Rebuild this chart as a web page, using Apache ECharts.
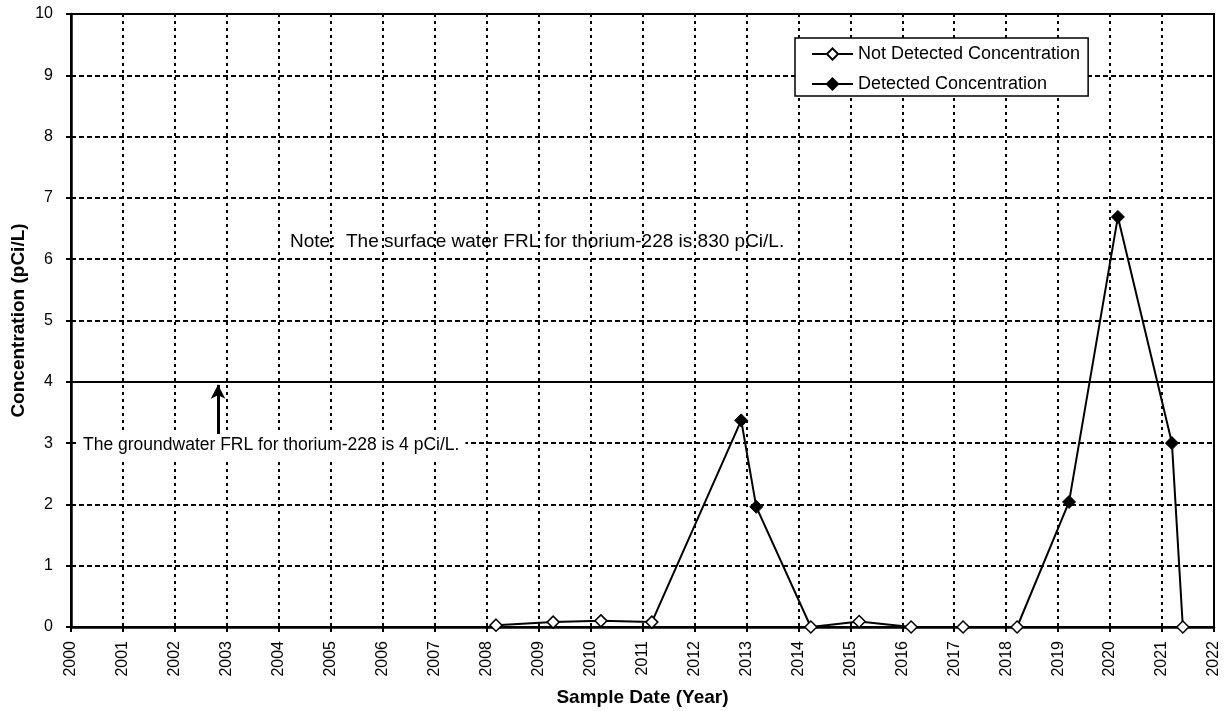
<!DOCTYPE html>
<html>
<head>
<meta charset="utf-8">
<script src="https://cdn.jsdelivr.net/npm/echarts@6/dist/echarts.min.js"></script>
<style>
html,body{margin:0;padding:0;background:#fff;}
#chart{width:1225px;height:711px;}
</style>
</head>
<body>
<div id="chart"></div>
<script>
// Data (decimal year, pCi/L)
const yearTicks = ['2000','2001','2002','2003','2004','2005','2006','2007','2008','2009','2010','2011','2012','2013','2014','2015','2016','2017','2018','2019','2020','2021','2022'];
const notDetectedDates = [2008.18, 2009.28, 2010.20, 2011.18, 2014.24, 2015.17, 2016.17, 2017.17, 2018.21, 2021.40];
const notDetectedValues = [0.03, 0.08, 0.10, 0.08, 0.00, 0.09, 0.00, 0.00, 0.00, 0.00];
const detectedDates = [2012.90, 2013.19, 2019.21, 2020.15, 2021.19];
const detectedValues = [3.37, 1.96, 2.04, 6.69, 3.00];
const groundwaterFRL = 4;
const arrowYear = 2002.83;
const arrowFrom = 3.13;
const arrowTo = 3.95;

const ndData = notDetectedDates.map((d, i) => [d, notDetectedValues[i]]);
const dData = detectedDates.map((d, i) => [d, detectedValues[i]]);
const allData = ndData.concat(dData).sort((a, b) => a[0] - b[0]);

const font = 'Arial, "Liberation Sans", sans-serif';
const chart = echarts.init(document.getElementById('chart'), null, {renderer: 'canvas'});
chart.setOption({
  animation: false,
  backgroundColor: '#fff',
  grid: {left: 71, right: 11, top: 14, bottom: 84, containLabel: false, outerBoundsMode: 'none',
    show: true, borderColor: '#000', borderWidth: 2, backgroundColor: 'transparent'},
  legend: {
    left: 795, top: 38, orient: 'vertical',
    backgroundColor: '#fff', borderColor: '#000', borderWidth: 1.5,
    padding: [7, 8, 3, 16], itemGap: 12, itemWidth: 41, itemHeight: 14,
    textStyle: {fontFamily: font, fontSize: 18, color: '#000', padding: [0, 0, 0, 0]},
    lineStyle: {width: 2, color: '#000'},
    data: ['Not Detected Concentration', 'Detected Concentration']
  },
  xAxis: {
    type: 'value', min: 2000, max: 2022, interval: 1,
    name: 'Sample Date (Year)', nameLocation: 'middle', nameGap: 61, nameMoveOverlap: false,
    nameTextStyle: {fontFamily: font, fontSize: 19, fontWeight: 'bold', color: '#000'},
    axisLine: {lineStyle: {color: '#000', width: 2.5}},
    axisTick: {show: true, length: 5, lineStyle: {color: '#000', width: 2}},
    axisLabel: {rotate: 90, margin: 14, fontFamily: font, fontSize: 16, color: '#000',
      formatter: v => yearTicks[Math.round(v - 2000)]},
    splitLine: {show: true, lineStyle: {color: '#000', width: 2, type: [3, 4]}}
  },
  yAxis: {
    type: 'value', min: 0, max: 10, interval: 1,
    name: 'Concentration (pCi/L)', nameLocation: 'middle', nameGap: 43, nameRotate: 90, nameMoveOverlap: false,
    nameTextStyle: {fontFamily: font, fontSize: 19, fontWeight: 'bold', color: '#000'},
    axisLine: {show: true, lineStyle: {color: '#000', width: 2.5}},
    axisTick: {show: true, length: 5, lineStyle: {color: '#000', width: 2}},
    axisLabel: {margin: 18, fontFamily: font, fontSize: 16, color: '#000'},
    splitLine: {show: true, lineStyle: {color: '#000', width: 2, type: [5, 3]}}
  },
  series: [
    {
      name: 'all', type: 'line', data: allData, showSymbol: false, symbol: 'none',
      lineStyle: {color: '#000', width: 2}, z: 3, silent: true,
      markLine: {
        silent: true, animation: false,
        label: {show: false},
        data: [
          [{coord: [2000, groundwaterFRL], symbol: 'none', lineStyle: {type: 'solid', color: '#000', width: 2}},
           {coord: [2022, groundwaterFRL], symbol: 'none'}],
          [{coord: [arrowYear, arrowFrom], symbol: 'none', lineStyle: {type: 'solid', color: '#000', width: 3}},
           {coord: [arrowYear, arrowTo], symbol: 'arrow', symbolSize: [11, 14]}]
        ]
      }
    },
    {
      name: 'Not Detected Concentration', type: 'line', data: ndData,
      symbol: 'diamond', symbolSize: 12, showSymbol: true,
      lineStyle: {width: 0, color: '#000'},
      itemStyle: {color: '#fff', borderColor: '#000', borderWidth: 1.5},
      z: 5
    },
    {
      name: 'Detected Concentration', type: 'line', data: dData,
      symbol: 'diamond', symbolSize: 13, showSymbol: true,
      lineStyle: {width: 0, color: '#000'},
      itemStyle: {color: '#000', borderColor: '#000', borderWidth: 1},
      z: 5
    }
  ],
  graphic: [
    {type: 'text', left: 290, top: 232, z: 10,
      style: {text: 'Note:  The surface water FRL for thorium-228 is 830 pCi/L.', font: '19px ' + font, fill: '#000'}},
    {type: 'text', left: 78, top: 434, z: 10,
      style: {text: 'The groundwater FRL for thorium-228 is 4 pCi/L.', font: '17.5px ' + font, fill: '#000',
        backgroundColor: '#fff', padding: [2, 6, 5, 5]}}
  ]
});
</script>
</body>
</html>
